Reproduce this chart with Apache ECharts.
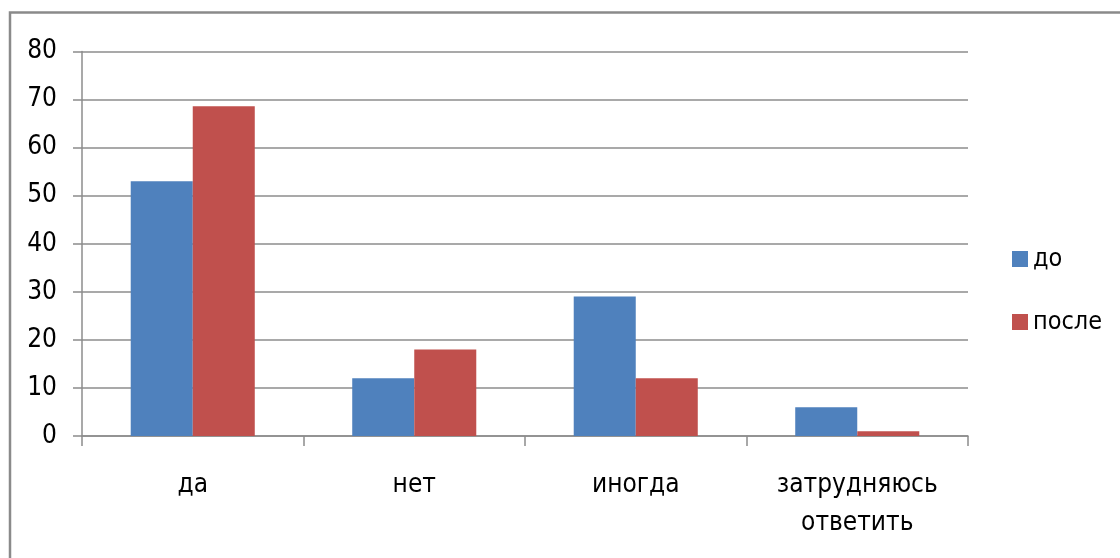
<!DOCTYPE html>
<html>
<head>
<meta charset="utf-8">
<script src="https://cdn.jsdelivr.net/npm/echarts@6/dist/echarts.min.js"></script>
<style>
html,body{margin:0;padding:0;background:#fff;}
#chart{width:1120px;height:558px;}
</style>
</head>
<body>
<div id="chart"></div>
<script>
const categories = ['да', 'нет', 'иногда', 'затрудняюсь\nответить'];
const seriesNames = ['до', 'после'];
const valuesDo = [53, 12, 29, 6];
const valuesPosle = [68.6, 18, 12, 1];
const yTicks = { min: 0, max: 80, interval: 10 };

const FONT = '"DejaVu Sans Condensed", "Liberation Sans", sans-serif';
const chart = echarts.init(document.getElementById('chart'), null, { renderer: 'canvas' });
chart.setOption({
  animation: false,
  backgroundColor: '#ffffff',
  graphic: [{
    type: 'rect',
    shape: { x: 10, y: 12.5, width: 1200, height: 600 },
    style: { fill: 'none', stroke: '#8a8a8a', lineWidth: 2.5 },
    silent: true
  }],
  grid: { left: 82, right: 152, top: 51.5, bottom: 122, containLabel: false },
  legend: {
    orient: 'vertical',
    left: 1012,
    top: 244,
    padding: 0,
    itemWidth: 16,
    itemHeight: 16,
    itemGap: 33,
    icon: 'rect',
    textStyle: { fontFamily: FONT, fontSize: 25, color: '#000', lineHeight: 30 },
    data: seriesNames
  },
  xAxis: {
    type: 'category',
    data: categories,
    axisLine: { show: true, lineStyle: { color: '#8c8c8c', width: 1.5 } },
    axisTick: { show: true, length: 10, interval: 0, lineStyle: { color: '#8c8c8c', width: 1.5 } },
    axisLabel: { interval: 0, margin: 30, fontFamily: FONT, fontSize: 26, color: '#000', lineHeight: 38, align: 'center' }
  },
  yAxis: {
    type: 'value',
    min: yTicks.min, max: yTicks.max, interval: yTicks.interval,
    axisLine: { show: true, lineStyle: { color: '#8c8c8c', width: 1.5 } },
    axisTick: { show: true, length: 9, lineStyle: { color: '#8c8c8c', width: 1.5 } },
    splitLine: { show: true, lineStyle: { color: '#8c8c8c', width: 1.5 } },
    axisLabel: { margin: 25, fontFamily: FONT, fontSize: 26, color: '#000' }
  },
  series: [
    { name: seriesNames[0], type: 'bar', data: valuesDo, barGap: '0%', barCategoryGap: '44%',
      itemStyle: { color: '#4F81BD' } },
    { name: seriesNames[1], type: 'bar', data: valuesPosle, barGap: '0%', barCategoryGap: '44%',
      itemStyle: { color: '#C0504D' } }
  ]
});
</script>
</body>
</html>
